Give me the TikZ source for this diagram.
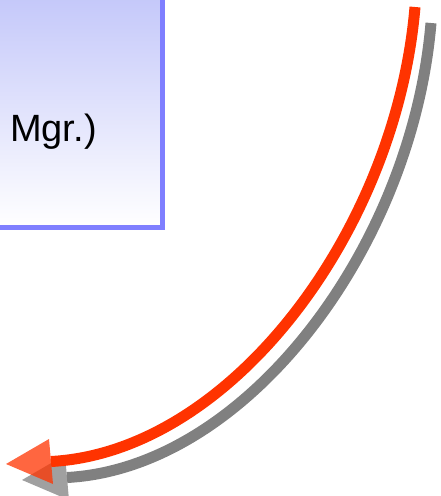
\documentclass[tikz,border=0pt]{standalone}
\usepackage{fontspec}
\setmainfont{Liberation Sans}
\definecolor{boxborder}{HTML}{7F7FFF}
\definecolor{boxtop}{HTML}{C0C4F9}
\definecolor{arrowred}{HTML}{FF3300}
\definecolor{shadowgray}{HTML}{808080}
\begin{document}
\begin{tikzpicture}[x=1pt,y=-1pt,
  boxstyle/.style={draw=boxborder, line width=5pt, top color=boxtop, bottom color=white},
  labelstyle/.style={anchor=base west, inner sep=0pt, font=\fontsize{38}{40}\selectfont},
  curvestyle/.style={line width=11pt, line cap=butt},
  headstyle/.style={fill opacity=0.75}]
\useasboundingbox (0,0) rectangle (441,496);
\clip (0,0) rectangle (441,496);
% box (extends past the top and left edges)
\path[boxstyle] (-20,-20) rectangle (162,227.5);
\node[labelstyle] (label) at (10,141.5) {Mgr.)};
% shadow arrow
\begin{scope}[shift={(16,16)}]
  \coordinate (sa) at (415,7);
  \coordinate (sb) at (51,461.5);
  \coordinate (stip) at (6,464);
  \coordinate (sc1) at (49,439);
  \coordinate (sc2) at (53,484);
  \draw[curvestyle, shadowgray] (sa) .. controls (396,232) and (230,452) .. (sb);
  \fill[headstyle, shadowgray] (stip) -- (sc1) -- (sc2) -- cycle;
\end{scope}
% red arrow
\coordinate (ra) at (415,7);
\coordinate (rb) at (51,461.5);
\coordinate (rtip) at (6,464);
\coordinate (rc1) at (49,439);
\coordinate (rc2) at (53,484);
\draw[curvestyle, arrowred] (ra) .. controls (396,232) and (230,452) .. (rb);
\fill[headstyle, arrowred] (rtip) -- (rc1) -- (rc2) -- cycle;
\end{tikzpicture}
\end{document}
